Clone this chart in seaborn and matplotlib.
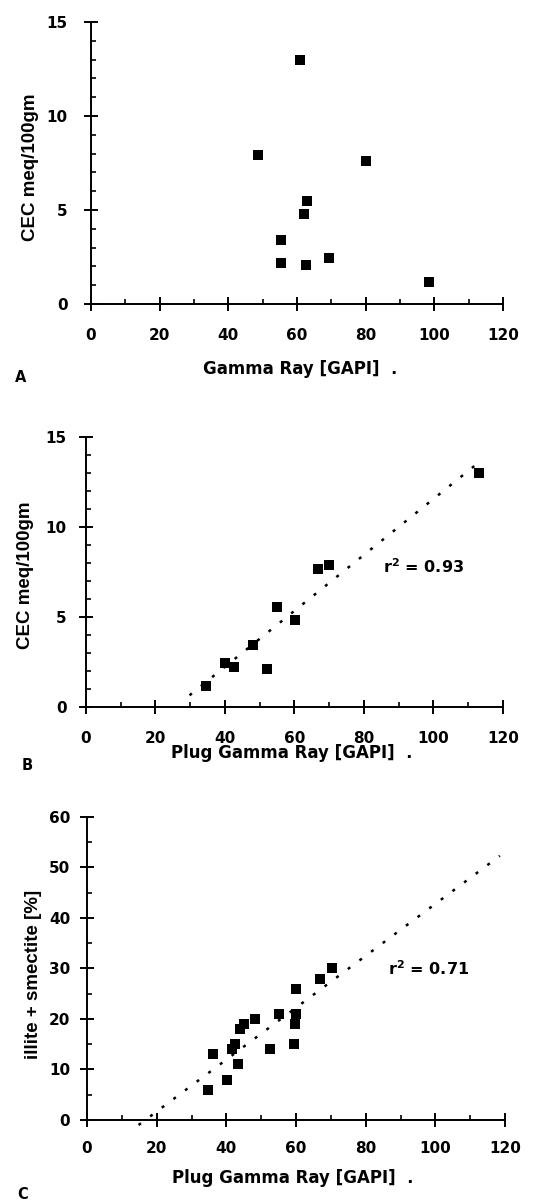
import matplotlib
matplotlib.use("Agg")
import matplotlib.pyplot as plt
import seaborn as sns
from matplotlib.ticker import MultipleLocator

# panel A: CEC vs log gamma ray
a_gr = [61.0, 48.6, 80.1, 62.9, 61.9, 55.3, 55.3, 62.5, 69.2, 98.3]
a_cec = [13.0, 7.9, 7.62, 5.48, 4.77, 3.42, 2.2, 2.09, 2.43, 1.15]

# panel B: CEC vs plug gamma ray
b_gr = [113.0, 70.0, 66.8, 54.9, 60.2, 48.1, 40.0, 42.6, 52.2, 34.6]
b_cec = [13.0, 7.9, 7.65, 5.53, 4.84, 3.43, 2.47, 2.21, 2.11, 1.19]
b_fit_x = [29.8, 113.3]
b_fit_y = [0.65, 13.63]
b_r2 = "0.93"

# panel C: illite + smectite vs plug gamma ray
c_gr = [34.8, 36.2, 40.1, 41.6, 42.6, 43.4, 44.0, 45.0, 48.2, 52.4,
        55.0, 59.5, 59.8, 60.0, 60.0, 66.9, 70.3]
c_clay = [6, 13, 8, 14, 15, 11, 18, 19, 20, 14,
          21, 15, 19, 21, 26, 28, 30]
c_fit_x = [14.8, 118.5]
c_fit_y = [-1.0, 52.3]
c_r2 = "0.71"

sns.set_style("ticks")
plt.rcParams["font.family"] = ["DejaVu Sans"]
plt.rcParams["font.weight"] = "bold"
plt.rcParams["mathtext.default"] = "bf"
plt.rcParams["text.color"] = "black"
plt.rcParams["axes.labelcolor"] = "black"
plt.rcParams["xtick.color"] = "black"
plt.rcParams["ytick.color"] = "black"

WIDE = "DejaVu Sans"
NARROW = ["Liberation Sans", "DejaVu Sans"]

fig = plt.figure(figsize=(5.53, 12.03), dpi=100)

ax_a = fig.add_axes([0.1646, 0.7473, 0.745, 0.2344])
ax_b = fig.add_axes([0.1555, 0.4123, 0.754, 0.2244])
ax_c = fig.add_axes([0.1573, 0.069, 0.756, 0.2519])


def style_axis(ax, ymax, ymajor, yminor, xpad, ypad):
    ax.set_xlim(0, 120)
    ax.set_ylim(0, ymax)
    ax.xaxis.set_major_locator(MultipleLocator(20))
    ax.xaxis.set_minor_locator(MultipleLocator(10))
    ax.yaxis.set_major_locator(MultipleLocator(ymajor))
    ax.yaxis.set_minor_locator(MultipleLocator(yminor))
    sns.despine(ax=ax)
    for side in ["left", "bottom"]:
        ax.spines[side].set_linewidth(1.4)
        ax.spines[side].set_color("black")
    ax.tick_params(which="major", direction="inout", length=10,
                   width=1.4, labelsize=11, colors="black")
    ax.tick_params(which="minor", direction="in", length=3.5,
                   width=1.2, colors="black")
    ax.tick_params(axis="x", which="major", pad=xpad)
    ax.tick_params(axis="y", which="major", pad=ypad)
    for lab in ax.get_xticklabels() + ax.get_yticklabels():
        lab.set_fontweight("bold")
        lab.set_family(WIDE)


def set_labels(ax, xlabel, ylabel, xl_pos, yl_pos):
    ax.set_xlabel(xlabel, fontsize=12, fontweight="bold", family=WIDE,
                  color="black")
    ax.set_ylabel(ylabel, fontsize=13.5, fontweight="bold", family=NARROW,
                  color="black")
    ax.xaxis.label.set_va("center")
    ax.yaxis.label.set_va("center")
    ax.xaxis.set_label_coords(*xl_pos)
    ax.yaxis.set_label_coords(*yl_pos)


# A
sns.scatterplot(x=a_gr, y=a_cec, ax=ax_a, marker="s", color="black",
                s=52, linewidth=0, clip_on=False)
style_axis(ax_a, 15, 5, 1, 12, 12)
set_labels(ax_a, "Gamma Ray [GAPI]  .", "CEC meq/100gm",
           (0.507, -0.2305), (-0.148, 0.486))

# B
ax_b.plot(b_fit_x, b_fit_y, color="black", lw=1.8,
          linestyle=(0, (1.2, 4.6)), clip_on=False)
sns.scatterplot(x=b_gr, y=b_cec, ax=ax_b, marker="s", color="black",
                s=52, linewidth=0, clip_on=False, zorder=3)
style_axis(ax_b, 15, 5, 1, 12, 9)
set_labels(ax_b, "Plug Gamma Ray [GAPI]  .", "CEC meq/100gm",
           (0.494, -0.170), (-0.146, 0.489))
ax_b.text(97.2, 7.8, "r$^2$ = " + b_r2, ha="center", va="center",
          fontsize=11.5, fontweight="bold", family=WIDE, color="black")

# C
ax_c.plot(c_fit_x, c_fit_y, color="black", lw=1.8,
          linestyle=(0, (1.2, 4.6)), clip_on=False)
sns.scatterplot(x=c_gr, y=c_clay, ax=ax_c, marker="s", color="black",
                s=52, linewidth=0, clip_on=False, zorder=3)
style_axis(ax_c, 60, 10, 5, 10, 7)
set_labels(ax_c, "Plug Gamma Ray [GAPI]  .", "illite + smectite [%]",
           (0.493, -0.1914), (-0.129, 0.479))
ax_c.text(98, 29.9, "r$^2$ = " + c_r2, ha="center", va="center",
          fontsize=11.5, fontweight="bold", family=WIDE, color="black")

# panel letters
fig.text(0.027, 0.6858, "A", fontsize=10.5, fontweight="bold", va="center",
         family=WIDE, color="black")
fig.text(0.0398, 0.364, "B", fontsize=10.5, fontweight="bold", va="center",
         family=WIDE, color="black")
fig.text(0.031, 0.0067, "C", fontsize=10.5, fontweight="bold", va="center",
         family=WIDE, color="black")

fig.savefig("out.png", dpi=100)
